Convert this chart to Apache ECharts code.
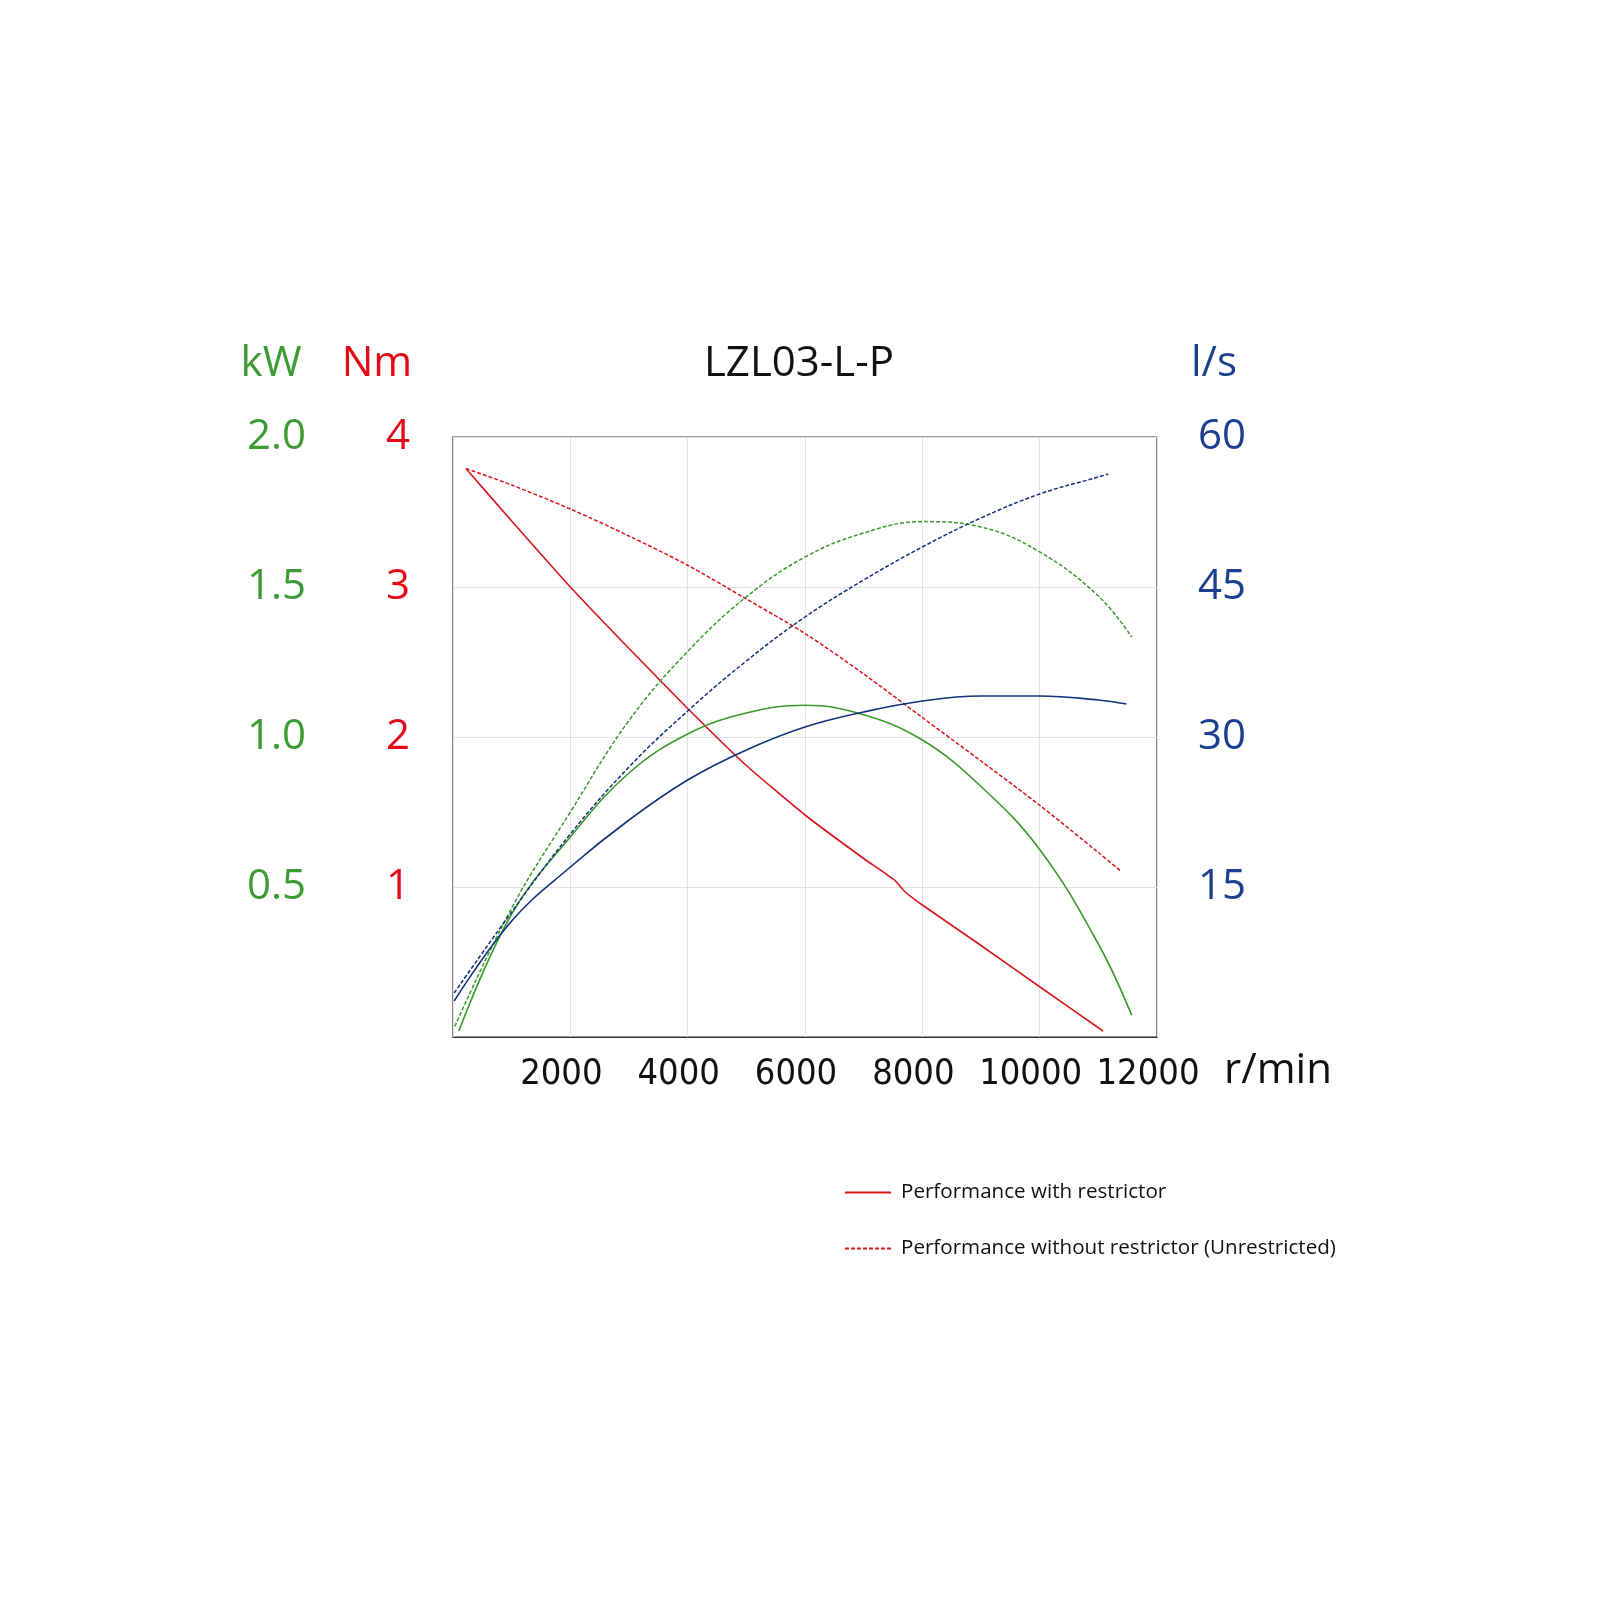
<!DOCTYPE html>
<html>
<head>
<meta charset="utf-8">
<title>LZL03-L-P</title>
<script src="https://cdn.jsdelivr.net/npm/echarts@6/dist/echarts.min.js"></script>
<style>
  html, body { margin: 0; padding: 0; background: #fff; }
  #main { width: 1600px; height: 1600px; }
</style>
</head>
<body>
<div id="main"></div>
<script>
// axis ticks
var rpmTicks = [0, 2000, 4000, 6000, 8000, 10000, 12000];

// torque, Nm
var rpmTorqueR = [220, 1000, 2000, 3000, 4000, 5000, 6000, 7000, 7530, 7700, 8000, 9000, 10000, 11080];
var torqueR = [3.79, 3.44, 3.0, 2.59, 2.19, 1.81, 1.48, 1.19, 1.045, 0.97, 0.88, 0.61, 0.335, 0.04];
var rpmTorqueU = [220, 1000, 2000, 3000, 4000, 5000, 6000, 7000, 8000, 9000, 10000, 11000, 11370];
var torqueU = [3.79, 3.68, 3.52, 3.34, 3.145, 2.92, 2.69, 2.42, 2.13, 1.84, 1.545, 1.23, 1.11];

// power, kW
var rpmPowerR = [100, 1000, 2000, 3000, 4000, 5000, 6000, 7000, 8000, 9000, 10000, 11000, 11570];
var powerR = [0.02, 0.41, 0.667, 0.88, 1.01, 1.08, 1.106, 1.074, 0.99, 0.835, 0.625, 0.31, 0.072];
var rpmPowerU = [30, 1000, 2000, 3000, 4000, 5000, 6000, 7000, 8000, 9000, 10000, 11000, 11570];
var powerU = [0.035, 0.43, 0.75, 1.055, 1.285, 1.467, 1.6, 1.68, 1.718, 1.7, 1.617, 1.47, 1.333];

// air flow, l/s
var rpmFlowR = [20, 1000, 2000, 3000, 4000, 5000, 6000, 7000, 8000, 9000, 10000, 11000, 11480];
var flowR = [3.6, 11.6, 17.0, 21.7, 25.7, 28.7, 31.0, 32.5, 33.6, 34.1, 34.1, 33.7, 33.3];
var rpmFlowU = [20, 1000, 2000, 3000, 4000, 5000, 6000, 7000, 8000, 9000, 10000, 11000, 11170];
var flowU = [4.4, 12.5, 20.3, 27.0, 32.6, 37.6, 42.0, 45.7, 49.0, 51.9, 54.3, 56.0, 56.3];

var cRed = "#d9141c";
var cGreen = "#3a9a2c";
var cBlue = "#12317d";
var font = "Open Sans";

function pairs(xs, ys) {
  return xs.map(function (x, i) { return [x, ys[i]]; });
}

var chartDom = document.getElementById("main");
var myChart = echarts.init(chartDom);
var option;

option = {
  backgroundColor: "#fff",
  animation: false,
  graphic: [
    { type: "text", x: 799, y: 364, style: { text: "LZL03-L-P", font: "42px " + font, fill: "#111", align: "center", verticalAlign: "middle" } },
    { type: "text", x: 271, y: 364, style: { text: "kW", font: "42px " + font, fill: "#3d9b35", align: "center", verticalAlign: "middle" } },
    { type: "text", x: 377, y: 364, style: { text: "Nm", font: "42px " + font, fill: "#e30a17", align: "center", verticalAlign: "middle" } },
    { type: "text", x: 1214, y: 364, style: { text: "l/s", font: "42px " + font, fill: "#1b3f8f", align: "center", verticalAlign: "middle" } },
    { type: "text", x: 1278, y: 1071, style: { text: "r/min", font: "42px " + font, fill: "#111", align: "center", verticalAlign: "middle" } }
  ],
  legend: {
    orient: "vertical",
    left: 839,
    top: 1177,
    itemWidth: 46,
    itemHeight: 14,
    itemGap: 35,
    data: ["Performance with restrictor", "Performance without restrictor (Unrestricted)"],
    itemStyle: { opacity: 0 },
    textStyle: { fontFamily: font, fontSize: 20.6, color: "#111", padding: [0, 0, 0, 5] }
  },
  grid: {
    left: 453,
    top: 437,
    width: 704,
    height: 600,
    show: true,
    borderColor: "#333",
    borderWidth: 1.2
  },
  xAxis: {
    type: "value",
    min: rpmTicks[0],
    max: rpmTicks[rpmTicks.length - 1],
    interval: 2000,
    axisLine: { show: true, lineStyle: { color: "#333" } },
    axisTick: { show: false },
    splitLine: { show: true, lineStyle: { color: "#e2e2e2", width: 1 } },
    axisLabel: {
      showMinLabel: false,
      showMaxLabel: true,
      hideOverlap: false,
      margin: 20,
      padding: [0, 18, 0, 0],
      fontFamily: "DejaVu Sans Condensed, Roboto",
      fontSize: 36,
      color: "#111",
      formatter: function (v) { return String(v); }
    }
  },
  yAxis: [
    {
      type: "value",
      position: "left",
      min: 0,
      max: 4,
      interval: 1,
      axisLine: { show: false },
      axisTick: { show: false },
      splitLine: { show: true, lineStyle: { color: "#e2e2e2", width: 1 } },
      axisLabel: { showMinLabel: false, margin: 43, fontFamily: font, fontSize: 42, color: "#e30a17" }
    },
    {
      type: "value",
      position: "left",
      offset: 100,
      min: 0,
      max: 2,
      interval: 0.5,
      axisLine: { show: false },
      axisTick: { show: false },
      splitLine: { show: false },
      axisLabel: {
        showMinLabel: false,
        margin: 47,
        fontFamily: font,
        fontSize: 42,
        color: "#3d9b35",
        formatter: function (v) { return v.toFixed(1); }
      }
    },
    {
      type: "value",
      position: "right",
      min: 0,
      max: 60,
      interval: 15,
      axisLine: { show: false },
      axisTick: { show: false },
      splitLine: { show: false },
      axisLabel: { showMinLabel: false, margin: 41, fontFamily: font, fontSize: 42, color: "#1b3f8f" }
    }
  ],
  series: [
    {
      name: "Performance with restrictor",
      type: "line",
      yAxisIndex: 0,
      data: pairs(rpmTorqueR, torqueR),
      smooth: 0.15,
      symbol: "none",
      lineStyle: { color: cRed, width: 1.6 },
      itemStyle: { color: cRed }
    },
    {
      name: "Performance without restrictor (Unrestricted)",
      type: "line",
      yAxisIndex: 0,
      data: pairs(rpmTorqueU, torqueU),
      smooth: 0.3,
      symbol: "none",
      lineStyle: { color: cRed, width: 1.5, type: [4, 2] },
      itemStyle: { color: cRed }
    },
    {
      name: "Power with restrictor",
      type: "line",
      yAxisIndex: 1,
      data: pairs(rpmPowerR, powerR),
      smooth: 0.4,
      symbol: "none",
      lineStyle: { color: cGreen, width: 1.6 }
    },
    {
      name: "Power without restrictor",
      type: "line",
      yAxisIndex: 1,
      data: pairs(rpmPowerU, powerU),
      smooth: 0.4,
      symbol: "none",
      lineStyle: { color: cGreen, width: 1.5, type: [4, 2] }
    },
    {
      name: "Flow with restrictor",
      type: "line",
      yAxisIndex: 2,
      data: pairs(rpmFlowR, flowR),
      smooth: 0.4,
      symbol: "none",
      lineStyle: { color: cBlue, width: 1.6 }
    },
    {
      name: "Flow without restrictor",
      type: "line",
      yAxisIndex: 2,
      data: pairs(rpmFlowU, flowU),
      smooth: 0.4,
      symbol: "none",
      lineStyle: { color: cBlue, width: 1.5, type: [4, 2] }
    }
  ]
};

option && myChart.setOption(option);
</script>
</body>
</html>
